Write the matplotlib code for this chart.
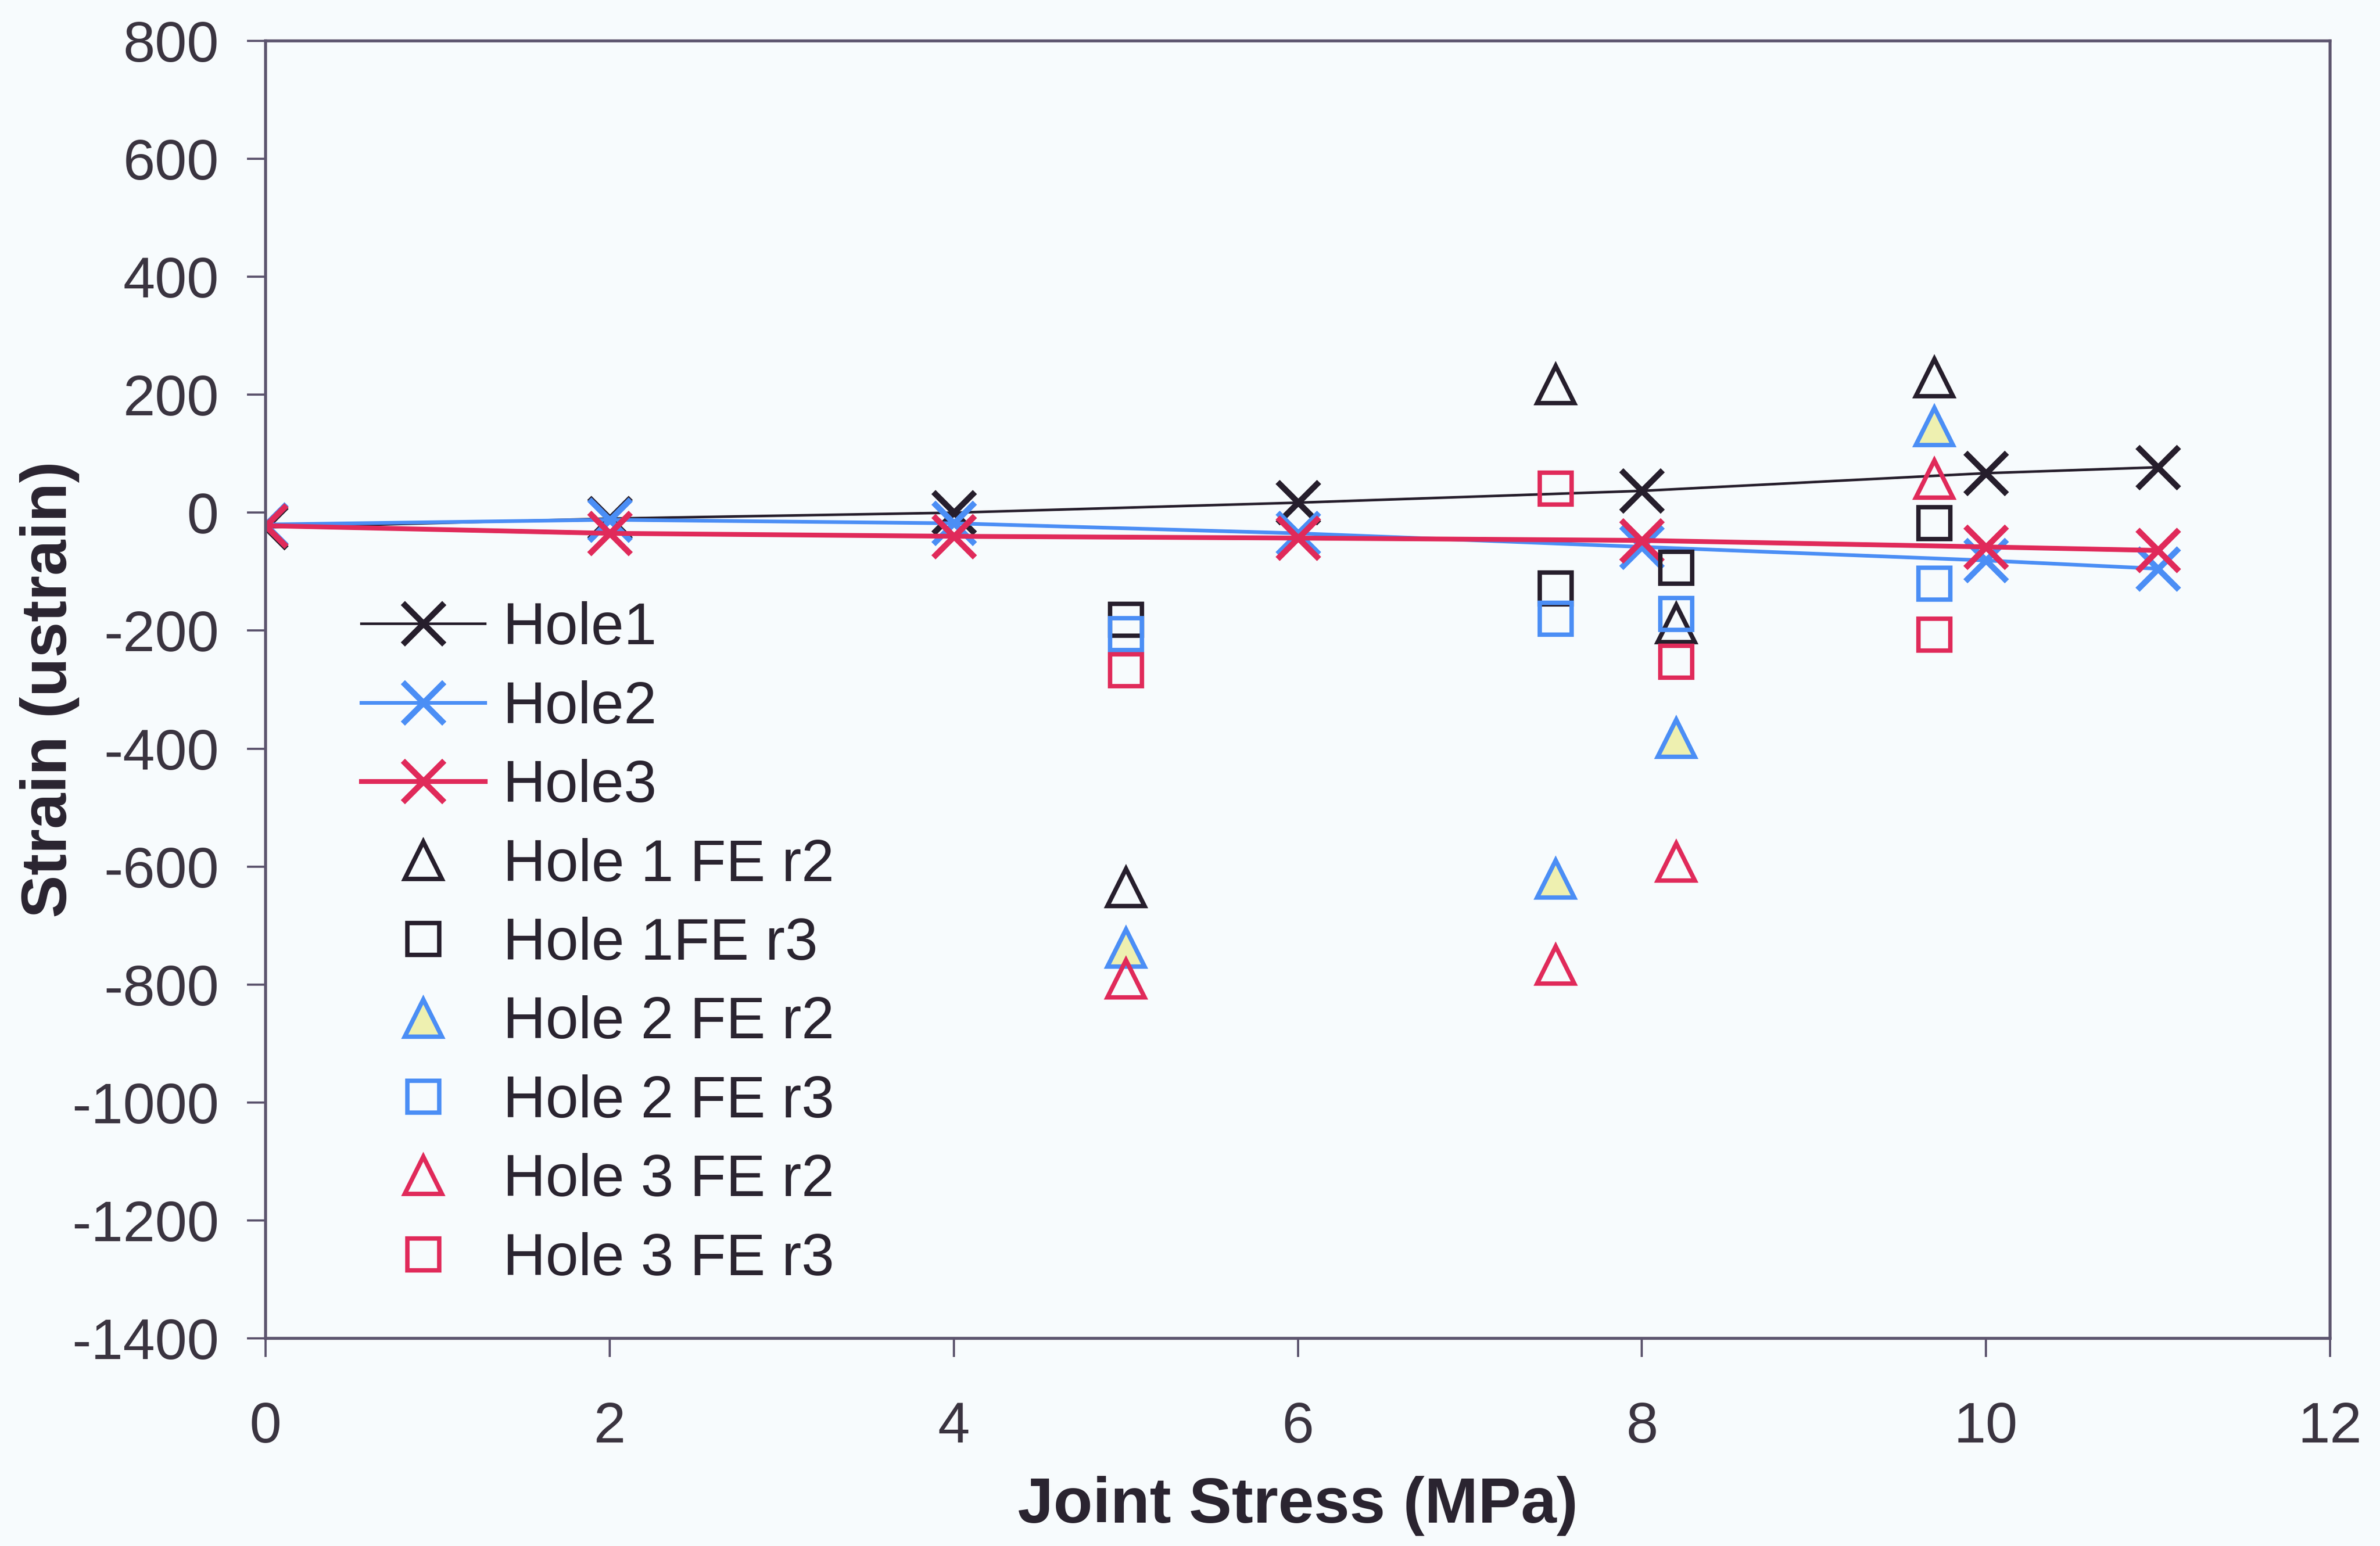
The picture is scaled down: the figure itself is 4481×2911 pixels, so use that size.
import matplotlib
matplotlib.use("Agg")
import matplotlib.pyplot as plt

plt.rcParams['font.family'] = ['Liberation Sans', 'DejaVu Sans']
plt.rcParams['axes.unicode_minus'] = False

# Measured strain at the three holes vs. applied joint stress
stress = [0, 2, 4, 6, 8, 10, 11]
hole1 = [-25, -10, 0, 17, 37, 67, 77]
hole2 = [-20, -12, -18, -35, -58, -81, -95]
hole3 = [-22, -35, -40, -43, -47, -58, -64]

# Finite element predictions at two radii
fe_stress = [5, 7.5, 8.2, 9.7]
hole1_fe_r2 = [-635, 217, -188, 229]
hole1_fe_r3 = [-182, -128, -93, -18]
hole2_fe_r2 = [-738, -621, -382, 146]
hole2_fe_r3 = [-206, -180, -172, -120]
hole3_fe_r2 = [-790, -767, -592, 57]
hole3_fe_r3 = [-267, 41, -253, -207]

x_ticks = [0, 2, 4, 6, 8, 10, 12]
y_ticks = [800, 600, 400, 200, 0, -200, -400, -600, -800, -1000, -1200, -1400]

BLACK = '#261e2c'
BLUE = '#4b8ef5'
RED = '#e02a5a'
BG = '#f7fbfd'
AXIS = '#5c546e'
TEXT = '#3a3440'

W, H = 4481, 2911
fig = plt.figure(figsize=(W / 100, H / 100), dpi=100, facecolor=BG)
ax = fig.add_axes([500 / W, 1 - 2520 / H, 3887 / W, 2443 / H], facecolor=BG)

xm = dict(marker='x', ms=56, mew=8)
ax.plot(stress, hole1, color=BLACK, lw=3.5, label='Hole1', **xm)
ax.plot(stress, hole2, color=BLUE, lw=5, label='Hole2', **xm)
ax.plot(stress, hole3, color=RED, lw=6.5, label='Hole3', **xm)

tri = dict(ls='none', marker='^', ms=50, mew=6)
sq = dict(ls='none', marker='s', ms=43, mew=6)
ax.plot(fe_stress, hole1_fe_r2, mec=BLACK, mfc='none', label='Hole 1 FE r2', **tri)
ax.plot(fe_stress, hole1_fe_r3, mec=BLACK, mfc='none', label='Hole 1FE r3', **sq)
ax.plot(fe_stress, hole2_fe_r2, mec=BLUE, mfc='#eef0b0', label='Hole 2 FE r2', **tri)
ax.plot(fe_stress, hole2_fe_r3, mec=BLUE, mfc='none', label='Hole 2 FE r3', **sq)
ax.plot(fe_stress, hole3_fe_r2, mec=RED, mfc='none', label='Hole 3 FE r2', **tri)
ax.plot(fe_stress, hole3_fe_r3, mec=RED, mfc='none', label='Hole 3 FE r3', **sq)

ax.set_xlim(0, 12)
ax.set_ylim(-1400, 800)
ax.set_xticks(x_ticks)
ax.set_yticks(y_ticks)
ax.tick_params(axis='both', direction='out', length=25, width=3, color=AXIS,
               labelsize=78, labelcolor=TEXT)
ax.tick_params(axis='x', pad=60)
ax.tick_params(axis='y', pad=38)
for side in ax.spines.values():
    side.set_color(AXIS)
    side.set_linewidth(4)

ax.set_xlabel('Joint Stress (MPa)', fontsize=87, fontweight='bold', color='#2a2430')
ax.xaxis.label.set_va('center')
ax.xaxis.set_label_coords(0.5, -(2835 - 2520) / 2443)
ax.set_ylabel('Strain (ustrain)', fontsize=87, fontweight='bold', color='#2a2430')
ax.yaxis.label.set_va('center')
ax.yaxis.set_label_coords(-(500 - 94) / 3887, 0.5)

leg = ax.legend(loc='center left', bbox_to_anchor=((680 - 500) / 3887, (2520 - 1778) / 2443),
                frameon=False, fontsize=80, numpoints=1, handlelength=2.1,
                handletextpad=0.3, labelspacing=0.4, borderpad=0, borderaxespad=0)
for t in leg.get_texts():
    t.set_color('#2a2430')

fig.savefig('out.png', dpi=100, facecolor=BG)
